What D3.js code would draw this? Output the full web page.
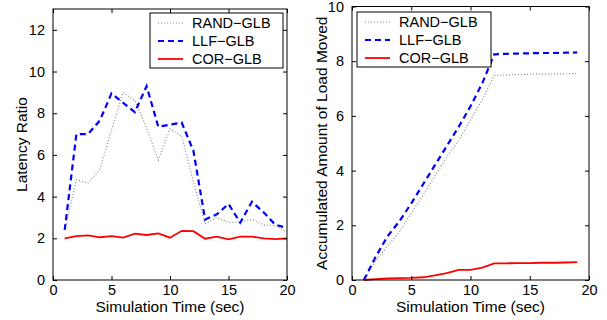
<!DOCTYPE html>
<html><head><meta charset="utf-8">
<script src="https://cdn.jsdelivr.net/npm/d3@7"></script>
<style>body{margin:0;background:#fff}svg{display:block}text{font-family:"Liberation Sans",Arial,sans-serif;fill:#000}</style>
</head><body>
<svg id="c" width="607" height="320"></svg>
<script>
const seriesNames = ["RAND\u2212GLB", "LLF\u2212GLB", "COR\u2212GLB"];
const timeL = d3.range(1, 21);
const latRand = [2.4, 4.8, 4.65, 5.3, 7.2, 9.0, 8.6, 7.3, 5.75, 7.25, 6.9, 4.7, 2.7, 3.0, 2.75, 2.8, 2.9, 2.65, 2.6, 2.3];
const latLlf  = [2.4, 7.0, 7.0, 7.65, 8.95, 8.5, 8.05, 9.3, 7.35, 7.45, 7.55, 6.2, 2.9, 3.15, 3.65, 2.75, 3.75, 3.25, 2.65, 2.5];
const latCor  = [2.0, 2.1, 2.14, 2.05, 2.1, 2.03, 2.22, 2.16, 2.24, 2.03, 2.36, 2.34, 1.98, 2.08, 1.95, 2.08, 2.08, 2.0, 1.96, 2.0];
const timeR = d3.range(1, 20);
const movRand = [0, 0.7, 1.25, 1.75, 2.45, 3.1, 3.8, 4.5, 5.1, 5.85, 6.6, 7.48, 7.5, 7.51, 7.52, 7.53, 7.53, 7.54, 7.55];
const movLlf  = [0, 0.85, 1.6, 2.15, 2.8, 3.5, 4.2, 4.9, 5.6, 6.35, 7.2, 8.25, 8.27, 8.28, 8.29, 8.3, 8.3, 8.31, 8.32];
const movCor  = [0, 0.03, 0.06, 0.07, 0.08, 0.1, 0.17, 0.25, 0.37, 0.37, 0.45, 0.61, 0.61, 0.62, 0.62, 0.63, 0.63, 0.64, 0.65];
const xTicks = [0, 5, 10, 15, 20];
const yTicksL = [0, 2, 4, 6, 8, 10, 12];
const yTicksR = [0, 2, 4, 6, 8, 10];

const styles = [
  {stroke: "#8a8a8a", width: 1.2, dash: "1,2"},
  {stroke: "#0000ff", width: 2.2, dash: "6,4"},
  {stroke: "#ff0000", width: 1.8, dash: null}
];

const svg = d3.select("#c");

function panel(opts) {
  const {x0, x1, y0, y1, yMax, yTicks, xs, ys, ylabel, legend} = opts;
  const x = d3.scaleLinear().domain([0, 20]).range([x0, x1]);
  const y = d3.scaleLinear().domain([0, yMax]).range([y1, y0]);
  const g = svg.append("g");
  const tl = 4;
  ys.forEach((arr, i) => {
    const st = styles[i];
    g.append("path").datum(arr)
      .attr("fill", "none").attr("stroke", st.stroke).attr("stroke-width", st.width)
      .attr("stroke-dasharray", st.dash)
      .attr("d", d3.line().x((d, j) => x(xs[j])).y(d => y(d)));
  });
  const ax = [
    d3.axisBottom(x).tickValues(xTicks).tickSizeInner(-tl).tickSizeOuter(0).tickPadding(5),
    d3.axisTop(x).tickValues(xTicks).tickSizeInner(-tl).tickSizeOuter(0).tickFormat(""),
    d3.axisLeft(y).tickValues(yTicks).tickSizeInner(-tl).tickSizeOuter(0).tickPadding(8),
    d3.axisRight(y).tickValues(yTicks).tickSizeInner(-tl).tickSizeOuter(0).tickFormat("")
  ];
  const tr = [`translate(0,${y1})`, `translate(0,${y0})`, `translate(${x0},0)`, `translate(${x1},0)`];
  ax.forEach((a, i) => {
    const ag = g.append("g").attr("transform", tr[i]).call(a);
    ag.select(".domain").remove();
    ag.selectAll("line").attr("stroke", "#000");
    ag.selectAll("text").attr("font-size", 14.5).attr("font-family", "Liberation Sans, Arial, sans-serif").attr("fill", "#000");
  });
  g.append("rect").attr("x", x0).attr("y", y0).attr("width", x1 - x0).attr("height", y1 - y0)
    .attr("fill", "none").attr("stroke", "#000").attr("stroke-width", 1);
  g.append("text").attr("x", (x0 + x1) / 2).attr("y", 312).attr("text-anchor", "middle")
    .attr("font-size", 15.5).text("Simulation Time (sec)");
  g.append("text").attr("transform", `translate(${opts.ylx},${(y0 + y1) / 2}) rotate(-90)`)
    .attr("text-anchor", "middle").attr("font-size", 15.5).text(ylabel);
  const lg = g.append("g");
  lg.append("rect").attr("x", legend.x).attr("y", legend.y).attr("width", legend.w).attr("height", legend.h)
    .attr("fill", "#fff").attr("stroke", "#000").attr("stroke-width", 1);
  seriesNames.forEach((n, i) => {
    const cy = legend.y + 10 + i * 18;
    const st = styles[i];
    lg.append("line").attr("x1", legend.x + 8).attr("x2", legend.x + 33).attr("y1", cy).attr("y2", cy)
      .attr("stroke", st.stroke).attr("stroke-width", st.width).attr("stroke-dasharray", st.dash);
    lg.append("text").attr("x", legend.x + 42).attr("y", cy + 5).attr("font-size", 14.5).text(n);
  });
}

panel({x0: 53, x1: 287, y0: 9, y1: 280, yMax: 13, yTicks: yTicksL, xs: timeL,
  ys: [latRand, latLlf, latCor], ylabel: "Latency Ratio", ylx: 27,
  legend: {x: 150, y: 13, w: 133, h: 55}});
panel({x0: 352, x1: 589, y0: 6.5, y1: 280, yMax: 10, yTicks: yTicksR, xs: timeR,
  ys: [movRand, movLlf, movCor], ylabel: "Accumulated Amount of Load Moved", ylx: 327,
  legend: {x: 357, y: 12, w: 134, h: 55}});
</script>
</body></html>
